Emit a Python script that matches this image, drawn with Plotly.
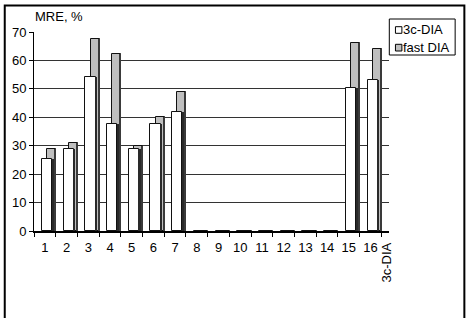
import plotly.graph_objects as go

categories = ["1", "2", "3", "4", "5", "6", "7", "8", "9", "10", "11", "12", "13", "14", "15", "16"]
dia3c = [25.2, 28.8, 54.0, 37.7, 28.9, 37.5, 41.8, 0, 0, 0, 0, 0, 0, 0, 50.2, 53.1]
fastdia = [29.0, 30.9, 67.6, 62.2, 29.8, 40.1, 48.8, 0, 0, 0, 0, 0, 0, 0, 66.3, 64.0]
series_names = ["3c-DIA", "fast DIA"]
y_title = "MRE, %"
depth_label = "3c-DIA"

W, H = 469, 318
L, R, T, B = 31, 80, 32, 87
PW, PH = W - L - R, H - T - B
FONT = "Liberation Sans, Arial, sans-serif"

def px(x):
    return (x - L) / PW

def py(y):
    return (H - B - y) / PH

fig = go.Figure()
# back series (fast DIA)
fig.add_bar(x=categories, y=fastdia, offset=0.105, width=0.415,
            marker=dict(color="#bfbfbf", line=dict(color="#111", width=1)),
            showlegend=False, hoverinfo="skip")
fig.add_bar(x=categories, y=fastdia, offset=0.45, width=0.07,
            marker=dict(color="#3a3a3a", line=dict(width=0)),
            showlegend=False, hoverinfo="skip")
# front series (3c-DIA)
fig.add_bar(x=categories, y=dia3c, offset=-0.135, width=0.47,
            marker=dict(color="white", line=dict(color="#111", width=1)),
            showlegend=False, hoverinfo="skip")
fig.add_bar(x=categories, y=dia3c, offset=0.335, width=0.07,
            marker=dict(color="#2a2a2a", line=dict(width=0)),
            showlegend=False, hoverinfo="skip")

shapes = []
# outer frame
shapes.append(dict(type="rect", xref="paper", yref="paper",
                   x0=px(1.5), x1=px(465), y0=py(330), y1=py(5.5),
                   line=dict(color="black", width=2), fillcolor="rgba(0,0,0,0)"))
# legend box
shapes.append(dict(type="rect", xref="paper", yref="paper",
                   x0=px(389.3), x1=px(455.7), y0=py(55), y1=py(19),
                   line=dict(color="black", width=1), fillcolor="white"))
shapes.append(dict(type="rect", xref="paper", yref="paper",
                   x0=px(395.5), x1=px(402), y0=py(33.3), y1=py(26.7),
                   line=dict(color="black", width=1), fillcolor="white"))
shapes.append(dict(type="rect", xref="paper", yref="paper",
                   x0=px(395.5), x1=px(402), y0=py(51), y1=py(44.3),
                   line=dict(color="black", width=1), fillcolor="#bfbfbf"))

annotations = [
    dict(text=series_names[0], xref="paper", yref="paper", x=px(401.5), y=py(30),
         xanchor="left", yanchor="middle", showarrow=False,
         font=dict(family=FONT, size=13, color="black")),
    dict(text=series_names[1], xref="paper", yref="paper", x=px(401.5), y=py(47.5),
         xanchor="left", yanchor="middle", showarrow=False,
         font=dict(family=FONT, size=13, color="black")),
    dict(text=y_title, xref="paper", yref="paper", x=px(30), y=py(16.5),
         xanchor="left", yanchor="middle", showarrow=False,
         font=dict(family=FONT, size=13, color="black")),
    dict(text=depth_label, xref="paper", yref="paper", x=px(385.5), y=py(241),
         xanchor="center", yanchor="top", textangle=-90, showarrow=False,
         font=dict(family=FONT, size=13, color="black")),
]

fig.update_layout(
    width=W, height=H,
    margin=dict(l=L, r=R, t=T, b=B, pad=0),
    paper_bgcolor="white", plot_bgcolor="white",
    barmode="overlay", bargap=0,
    font=dict(family=FONT, size=13, color="black"),
    shapes=shapes, annotations=annotations,
    showlegend=False,
)
fig.update_xaxes(type="category", range=[-0.5, 15.85], tickson="boundaries",
                 ticks="outside", ticklen=4, tickcolor="black", tickangle=0,
                 showline=True, linecolor="black", linewidth=2,
                 showgrid=False, tickfont=dict(size=13), ticklabelstandoff=3)
fig.update_yaxes(range=[0, 70], dtick=10, ticks="outside", ticklen=4, tickcolor="black",
                 showline=True, linecolor="black", linewidth=1,
                 showgrid=True, gridcolor="#333", gridwidth=1,
                 zeroline=False, tickfont=dict(size=13))

fig.write_html("out.html")
